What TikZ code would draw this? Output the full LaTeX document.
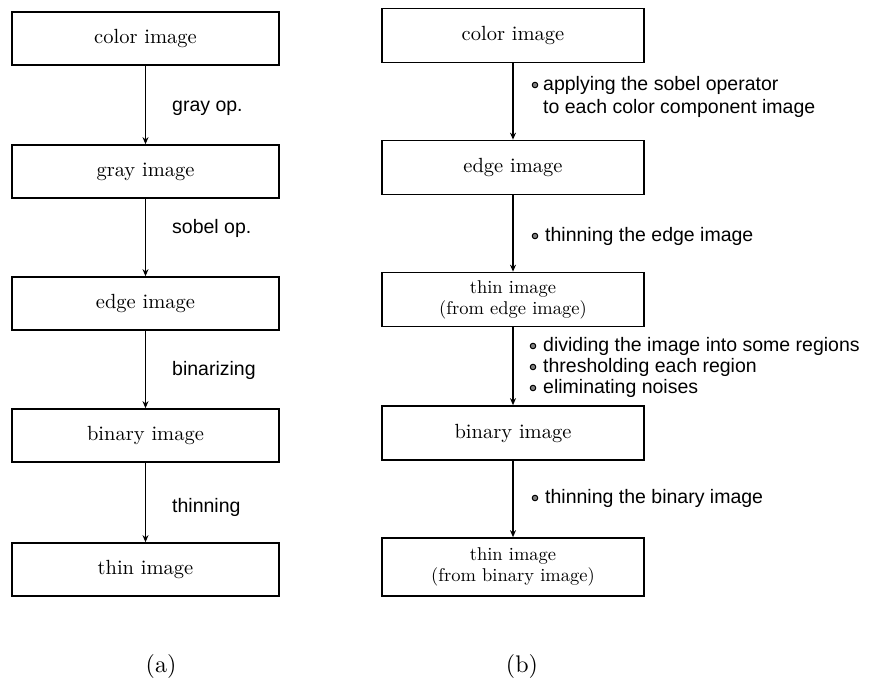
\documentclass[tikz,border=0pt]{standalone}
\usepackage{fontspec}
\newfontfamily\labfont{Liberation Sans}
\newfontfamily\boxfont{lmroman10-regular.otf}
\usetikzlibrary{arrows.meta}
\begin{document}
\begin{tikzpicture}[x=1pt,y=-1pt,
  lbox/.style={draw,line width=1.7pt,minimum width=267pt,minimum height=53pt,inner sep=0pt,align=center,font=\boxfont\fontsize{20.5}{24}\selectfont},
  rbox/.style={draw,line width=1.7pt,minimum width=262pt,minimum height=54pt,inner sep=0pt,align=center,font=\boxfont\fontsize{20.5}{24}\selectfont},
  twoline/.style={font=\boxfont\fontsize{18.5}{21}\selectfont},
  flow/.style={line width=1.4pt,-{Stealth[length=7pt,width=6pt]}},
  lab/.style={anchor=west,inner sep=0pt,font=\labfont\fontsize{19.5}{23}\selectfont,align=left},
  bul/.style={circle,draw,line width=1pt,fill=black!50,minimum size=5.5pt,inner sep=0pt},
  capt/.style={font=\boxfont\fontsize{24}{28}\selectfont}
]
\useasboundingbox (0,0) rectangle (875,685);

% (a)
\node[lbox] (a1) at (145.5,38.5) {color image};
\node[lbox] (a2) at (145.5,171.5) {gray image};
\node[lbox] (a3) at (145.5,303.5) {edge image};
\node[lbox] (a4) at (145.5,435.5) {binary image};
\node[lbox] (a5) at (145.5,569.5) {thin image};
\draw[flow] (a1) -- (a2);
\draw[flow] (a2) -- (a3);
\draw[flow] (a3) -- (a4);
\draw[flow] (a4) -- (a5);
\node[lab] (la1) at (172,108) {gray op.};
\node[lab] (la2) at (172,228) {sobel op.};
\node[lab] (la3) at (172,370) {binarizing};
\node[lab] (la4) at (172,507) {thinning};
\node[capt] (ca) at (161,666) {(a)};

% (b)
\node[rbox] (b1) at (513,35.5) {color image};
\node[rbox] (b2) at (513,167.5) {edge image};
\node[rbox,twoline] (b3) at (513,299.5) {thin image\\(from edge image)};
\node[rbox] (b4) at (513,433) {binary image};
\node[rbox,twoline,minimum height=58pt] (b5) at (513,567) {thin image\\(from binary image)};
\draw[flow] (b1) -- (b2);
\draw[flow] (b2) -- (b3);
\draw[flow] (b3) -- (b4);
\draw[flow] (b4) -- (b5);

\node[bul] (u1) at (535,85) {};
\node[lab] (lb1) at (543,96.5) {applying the sobel operator\\to each color component image};
\node[bul] (u2) at (535,236) {};
\node[lab] (lb2) at (545,236) {thinning the edge image};
\node[bul] (u3) at (533,346) {};
\node[lab] (lb3) at (543,346) {dividing the image into some regions};
\node[bul] (u4) at (533,367) {};
\node[lab] (lb4) at (543,367) {thresholding each region};
\node[bul] (u5) at (533,388) {};
\node[lab] (lb5) at (543,388) {eliminating noises};
\node[bul] (u6) at (535,498) {};
\node[lab] (lb6) at (545,498) {thinning the binary image};
\node[capt] (cb) at (522,666) {(b)};
\end{tikzpicture}
\end{document}
